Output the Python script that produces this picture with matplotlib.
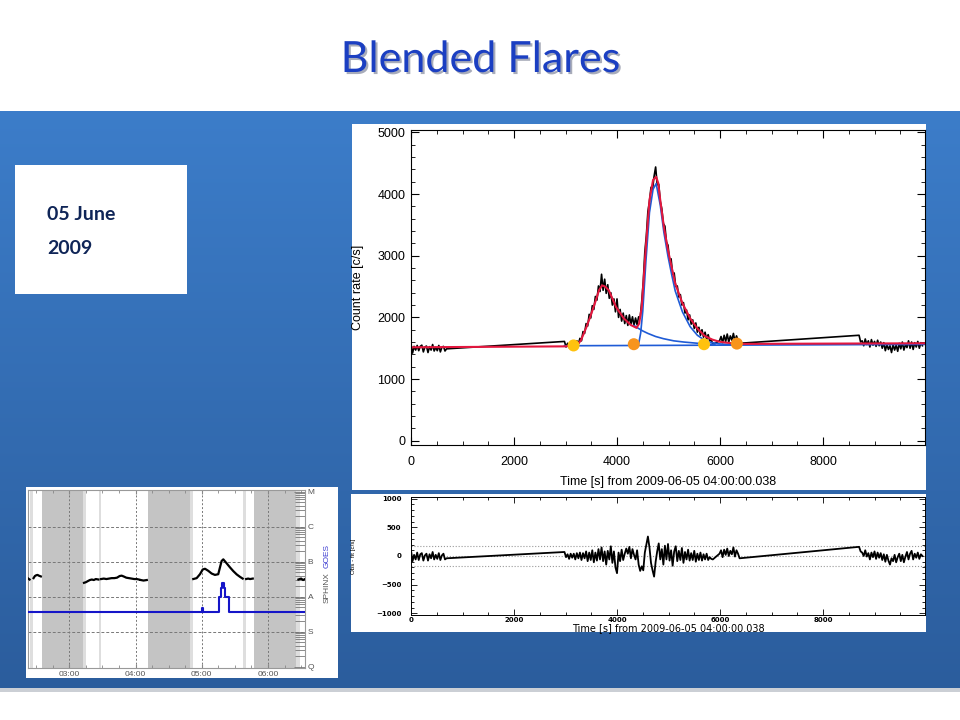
import numpy as np
import matplotlib.pyplot as plt
from matplotlib.patches import Rectangle
from matplotlib.ticker import MultipleLocator, FixedLocator, LogLocator, NullFormatter
import matplotlib.patheffects as pe

W, H = 960, 720
nan = np.nan

# ---- SphinX light curve, 30 s samples, four data segments (start time in s)
step = 30
seg_start = [0, 2980, 5990, 8700]
obs_a = [1560, 1420, 1530, 1470, 1545, 1460, 1530, 1550, 1440, 1520, 1535, 1430,
         1525, 1470, 1560, 1455, 1515, 1460, 1545, 1440, 1515, 1530, 1455, 1490]
obs_b = [1610, 1520, 1580, 1510, 1590, 1530, 1580, 1550, 1620, 1570, 1660, 1620,
         1770, 1740, 1900, 1860, 2050, 1990, 2190, 2130, 2340, 2280, 2510, 2420,
         2700, 2440, 2620, 2390, 2530, 2310, 2400, 2200, 2300, 2090, 2300, 2000,
         2130, 1940, 2070, 1900, 2030, 1870, 2040, 1890, 2010, 1870, 1990, 1880,
         2010, 1990, 2260, 2580, 3060, 3330, 3720, 3880, 4110, 4080, 4290, 4440,
         4150, 4160, 3880, 3760, 3520, 3480, 3220, 3170, 2930, 2950, 2700, 2720,
         2500, 2510, 2330, 2370, 2200, 2240, 2070, 2120, 1960, 2040, 1890, 1960,
         1820, 1910, 1760, 1840, 1710, 1800, 1680, 1760, 1640, 1720, 1620, 1640, 1560]
obs_c = [1620, 1690, 1590, 1710, 1610, 1730, 1600, 1700, 1630, 1740, 1610, 1700, 1630, 1580]
obs_d = [1710, 1600, 1620, 1540, 1650, 1560, 1620, 1520, 1640, 1550, 1610, 1530,
         1630, 1540, 1600, 1500, 1590, 1460, 1560, 1480, 1540, 1430, 1560, 1470,
         1550, 1450, 1580, 1490, 1600, 1470, 1560, 1510, 1620, 1500, 1600, 1480,
         1590, 1520, 1610, 1500, 1590, 1540]

# residuals obs - fit, same sampling
res_a = [100, -90, 20, -60, 60, -70, 30, 50, -80, 10, 40, -80,
         30, -40, 70, -60, 20, -50, 50, -70, 10, 40, -60, -40]
res_b = [70, -20, 30, -50, 40, -30, 40, -60, 50, -40, 60, -70,
         50, -40, 80, -90, 60, -70, 100, -110, 60, -80, 120, -60,
         150, -90, 80, -150, 90, -60, 170, -120, 80, -200, -300, 60,
         -90, 110, -70, 40, 130, 40, 160, -40, 120, 20, -60, 100,
         -150, -260, -180, -250, 60, 200, 340, 150, -120, -250, -360, -100,
         80, 220, -60, 120, -150, 180, -60, 210, -80, 100, -170, 80,
         170, -90, 90, -70, 140, -120, 70, -60, 110, -80, 50, -70,
         90, -100, 40, -70, 60, -80, 30, -60, 40, -70, -20, -50, -60]
res_c = [40, 100, -20, 110, 20, 130, 0, 90, 30, 150, -10, 100, 40, -40]
res_d = [160, 80, 60, 0, 100, -10, 50, -60, 60, -20, 80, -50,
         60, -30, 50, -70, 30, -100, 20, -80, -150, -40, -90, 20,
         -110, -20, 40, -90, 20, -110, -10, 70, -60, 40, 90, -60,
         40, -30, 60, -50, 30, 0]
sigma_lines = [-175, 0, 175]

# total fit (red) and components (blue)
fit_t = [0, 2980, 3150, 3250, 3300, 3400, 3480, 3590, 3650, 3710, 3770, 3840, 3980,
         4130, 4270, 4380, 4430, 4480, 4560, 4630, 4700, 4760, 4800, 4840, 4910,
         4990, 5060, 5130, 5270, 5420, 5560, 5700, 5850, 5990, 6130, 6350, 9980]
fit_v = [1515, 1530, 1540, 1575, 1630, 1830, 2010, 2280, 2440, 2520, 2500, 2440, 2170,
         1985, 1875, 1830, 1900, 2170, 3140, 3900, 4230, 4280, 4180, 3900, 3470,
         3090, 2820, 2550, 2230, 1985, 1820, 1700, 1640, 1605, 1590, 1570, 1580]
base_t = [2980, 9980]
base_v = [1540, 1562]
tail1_t = [4330, 4400, 4500, 4600, 4750, 4900, 5100, 5300, 5500, 5700, 5900]
tail1_v = [1870, 1830, 1780, 1740, 1690, 1655, 1620, 1600, 1585, 1570, 1562]
comp2_t = [4340, 4420, 4460, 4500, 4560, 4630, 4700, 4760, 4840, 4910, 4990,
           5060, 5130, 5270, 5420, 5560, 5700, 5850, 5990, 6130, 6350]
comp2_v = [1548, 1570, 1750, 2100, 2900, 3700, 4080, 4170, 3820, 3380, 2990,
           2700, 2430, 2090, 1850, 1710, 1630, 1590, 1570, 1562, 1558]
mark_t = [3156, 4326, 5689, 6327]
mark_v = [1545, 1565, 1565, 1575]
mark_c = ['#FFC20E', '#F7941D', '#FFC20E', '#F7941D']

# ---- SphinX / GOES overview (time in hours UT, flux W/m2)
sx_t = [2.38, 2.40, nan, 2.46, 2.48, 2.50, 2.52, 2.54, 2.57, nan,
        3.222, 3.25, 3.28, 3.31, 3.34, 3.37, 3.40, 3.44, nan,
        3.48, 3.52, 3.56, 3.60, 3.64, 3.68, 3.72, 3.76, 3.79, 3.82, 3.86, 3.90,
        3.94, 3.98, 4.02, 4.05, nan, 4.08, 4.12, 4.17, nan,
        4.872, 4.923, 4.973, 5.014, 5.049, 5.098, 5.149, 5.199, 5.249, 5.275,
        5.300, 5.325, 5.376, 5.426, 5.476, 5.527, 5.577, 5.618, nan,
        5.67, 5.70, 5.73, 5.77, nan, 6.46, 6.50, 6.53, 6.56]
sx_f = [3.3e-8, 3.1e-8, nan, 3.4e-8, 3.9e-8, 4.1e-8, 4.2e-8, 4.0e-8, 3.8e-8, nan,
        2.5e-8, 2.6e-8, 2.8e-8, 3.0e-8, 3.1e-8, 3.0e-8, 3.2e-8, 3.1e-8, nan,
        3.2e-8, 3.3e-8, 3.2e-8, 3.3e-8, 3.4e-8, 3.4e-8, 3.5e-8, 3.9e-8, 4.0e-8, 3.8e-8, 3.5e-8, 3.4e-8,
        3.3e-8, 3.2e-8, 3.2e-8, 3.1e-8, nan, 3.0e-8, 2.9e-8, 3.0e-8, nan,
        3.2e-8, 3.4e-8, 4.4e-8, 6.0e-8, 6.3e-8, 5.5e-8, 4.6e-8, 4.2e-8, 4.4e-8, 6.9e-8,
        1.05e-7, 1.17e-7, 9.0e-8, 6.9e-8, 5.4e-8, 4.35e-8, 3.7e-8, 3.3e-8, nan,
        3.2e-8, 3.3e-8, 3.2e-8, 3.3e-8, nan, 3.1e-8, 3.3e-8, 3.0e-8, 3.2e-8]
goes_t = [2.376, 5.005, 5.02, 5.265, 5.285, 5.305, 5.335, 5.35, 5.41, 6.56]
goes_f = [3.6e-9, 4.9e-9, 3.6e-9, 1.0e-8, 1.75e-8, 2.4e-8, 1.75e-8, 1.0e-8, 3.6e-9, 3.6e-9]
dark_bands = [(2.583, 3.211), (4.188, 4.822), (5.788, 6.422)]
light_bands = [(2.406, 2.451), (3.206, 3.252), (3.448, 3.478),
               (4.822, 4.875), (5.622, 5.675), (6.422, 6.483)]
hours = [3, 4, 5, 6]
hour_labels = ['03:00', '04:00', '05:00', '06:00']
classes = [1e-5, 1e-6, 1e-7, 1e-8, 1e-9, 1e-10]
class_labels = ['M', 'C', 'B', 'A', 'S', 'Q']


def segments(values_list):
    t, v = [], []
    for t0, vals in zip(seg_start, values_list):
        t.extend(t0 + step * np.arange(len(vals)))
        v.extend(vals)
    return np.array(t), np.array(v)


def px_axes(fig, x0, y0, x1, y1):
    return fig.add_axes([x0 / W, 1 - y1 / H, (x1 - x0) / W, (y1 - y0) / H])


plt.rcParams['font.family'] = ['Liberation Sans', 'DejaVu Sans']
fig = plt.figure(figsize=(9.6, 7.2), dpi=100)

# ---- slide background
bg = fig.add_axes([0, 0, 1, 1])
grad = np.linspace(0, 1, 256)[:, None, None]
top_c = np.array([0.235, 0.49, 0.79])
bot_c = np.array([0.17, 0.365, 0.615])
img = top_c + (bot_c - top_c) * grad
bg.imshow(img, extent=[0, W, 688, 111], aspect='auto', interpolation='bilinear')
bg.add_patch(Rectangle((0, 688), W, 4, color='#8c96a3', alpha=0.45, lw=0))
for (x0, y0, x1, y1) in [(15, 165, 187, 294), (352, 124, 926, 490),
                         (351, 494, 926, 632), (26, 487, 338, 678)]:
    bg.add_patch(Rectangle((x0, y0), x1 - x0, y1 - y0, fc='white', ec='none'))
bg.set_xlim(0, W)
bg.set_ylim(H, 0)
bg.axis('off')

bg.text(480, 60, 'Blended Flares', ha='center', va='center', fontsize=31,
        color='#1B3FC2', family='Lato',
        path_effects=[pe.withSimplePatchShadow(offset=(1.5, -1.5), alpha=0.35)])
bg.text(47, 215, '05 June', ha='left', va='center', fontsize=14,
        fontweight='bold', color='#0F2557', family='Lato')
bg.text(47, 249, '2009', ha='left', va='center', fontsize=14,
        fontweight='bold', color='#0F2557', family='Lato')

# ---- main light curve
t_obs, v_obs = segments([obs_a, obs_b, obs_c, obs_d])
ax = px_axes(fig, 411, 130, 925, 445)
ax.plot(t_obs, v_obs, color='black', lw=1.2)
ax.plot(base_t, base_v, color='#1F5BD6', lw=1.2)
ax.plot(tail1_t, tail1_v, color='#1F5BD6', lw=1.2)
ax.plot(comp2_t, comp2_v, color='#1F5BD6', lw=1.2)
ax.plot(fit_t, fit_v, color='#E3173E', lw=1.5)
ax.scatter(mark_t, mark_v, s=75, c=mark_c, zorder=5, lw=0)
ax.set_xlim(0, 9980)
ax.set_ylim(-70, 5040)
ax.xaxis.set_major_locator(MultipleLocator(2000))
ax.xaxis.set_minor_locator(MultipleLocator(500))
ax.yaxis.set_major_locator(MultipleLocator(1000))
ax.yaxis.set_minor_locator(MultipleLocator(200))
ax.tick_params(which='both', direction='in', top=True, right=True, labelsize=9)
ax.tick_params(which='major', length=6)
ax.tick_params(which='minor', length=3)
ax.tick_params(axis='x', pad=8)
ax.tick_params(axis='y', pad=4)
ax.set_xlabel('Time [s] from 2009-06-05 04:00:00.038', fontsize=9, va='center')
ax.xaxis.set_label_coords(0.5, -(482 - 445) / 315)
ax.set_ylabel('Count rate [c/s]', fontsize=9, va='center')
ax.yaxis.set_label_coords((358 - 411) / 514, 0.5)

# ---- residuals
t_res, v_res = segments([res_a, res_b, res_c, res_d])
axr = px_axes(fig, 411, 497, 925, 615)
for lvl in sigma_lines:
    axr.axhline(lvl, color='#9a9a9a', ls=':', lw=0.8)
axr.plot(t_res, v_res, color='black', lw=1.3)
axr.set_xlim(0, 9980)
axr.set_ylim(-1030, 1030)
axr.xaxis.set_major_locator(MultipleLocator(2000))
axr.xaxis.set_minor_locator(MultipleLocator(500))
axr.yaxis.set_major_locator(MultipleLocator(500))
axr.yaxis.set_minor_locator(MultipleLocator(100))
axr.tick_params(which='both', direction='in', top=True, right=True, labelsize=5,
                width=0.6)
axr.tick_params(which='major', length=4)
axr.tick_params(which='minor', length=2)
axr.tick_params(axis='x', pad=1.5)
axr.tick_params(axis='y', pad=7)
for lab in axr.get_xticklabels() + axr.get_yticklabels():
    lab.set_fontweight('bold')
    lab.set_family('DejaVu Sans')
for sp in axr.spines.values():
    sp.set_linewidth(0.7)
axr.set_xlabel('Time [s] from 2009-06-05 04:00:00.038', fontsize=7,
               family='DejaVu Sans', va='center')
axr.xaxis.set_label_coords(0.5, -(628 - 615) / 118)
axr.set_ylabel('Obs - fit [c/s]', fontsize=4.5, va='center')
axr.yaxis.set_label_coords((354 - 411) / 514, 0.5)

# ---- SphinX / GOES overview
axg = px_axes(fig, 28, 490, 305, 668)
for a, b in dark_bands:
    axg.axvspan(a, b, color='#C4C4C4', lw=0, zorder=0)
for a, b in light_bands:
    axg.axvspan(a, b, color='#DEDEDE', lw=0, zorder=0)
for h in hours:
    axg.axvline(h, color='#777777', ls=(0, (2, 2)), lw=0.7, zorder=1)
for c in classes[1:-1]:
    axg.axhline(c, color='#777777', ls=(0, (3, 2)), lw=0.7, zorder=1)
axg.plot(sx_t, sx_f, color='black', lw=1.6, zorder=3)
axg.step(goes_t, goes_f, where='post', color='#1515C8', lw=1.5, zorder=4)
axg.set_yscale('log')
axg.set_xlim(2.376, 6.559)
axg.set_ylim(9.2e-11, 1.12e-5)
axg.xaxis.set_major_locator(FixedLocator(hours))
axg.set_xticklabels(hour_labels)
axg.xaxis.set_minor_locator(MultipleLocator(0.25))
axg.yaxis.set_major_locator(FixedLocator(classes))
axg.set_yticklabels(class_labels)
axg.yaxis.set_minor_locator(LogLocator(base=10, subs=np.arange(2, 10)))
axg.yaxis.set_minor_formatter(NullFormatter())
axg.tick_params(axis='x', which='both', direction='in', top=True, bottom=True,
                labelsize=6, labelcolor='#555555', color='#888888', pad=2)
axg.tick_params(axis='x', which='major', length=3)
axg.tick_params(axis='x', which='minor', length=2)
axg.tick_params(axis='y', which='both', direction='in', left=False, right=True,
                labelleft=False, labelright=True, labelsize=6,
                labelcolor='#555555', color='#777777', pad=2, width=0.6)
axg.tick_params(axis='y', which='major', length=8)
axg.tick_params(axis='y', which='minor', length=7)
for sp in axg.spines.values():
    sp.set_color('#999999')
    sp.set_linewidth(0.8)

bg.text(327, 588, 'SPHINX', rotation=90, ha='center', va='center',
        fontsize=6, color='#555555')
bg.text(327, 556, 'GOES', rotation=90, ha='center', va='center',
        fontsize=6, color='#3A3AD0')

fig.savefig('out.png', dpi=100)
